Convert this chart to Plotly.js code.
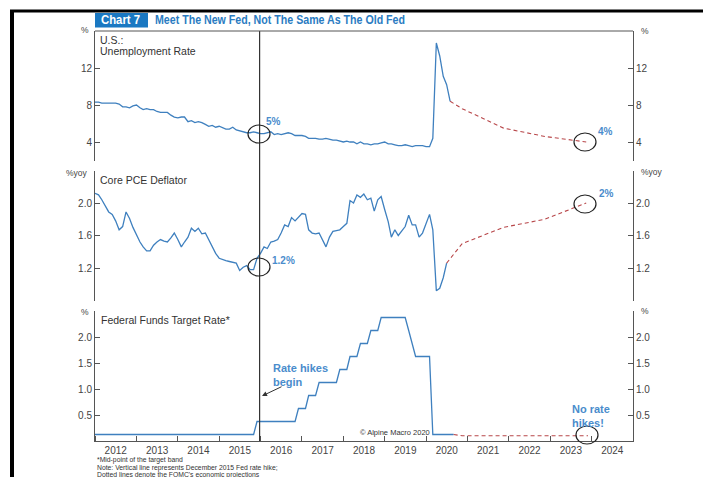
<!DOCTYPE html>
<html><head><meta charset="utf-8">
<script src="https://cdn.plot.ly/plotly-3.0.1.min.js"></script>
<style>html,body{margin:0;padding:0;background:#fff}#chart{width:703px;height:477px}</style>
</head><body><div id="chart"></div>
<script>
// ---------- DATA ----------
const seriesStart = '2012-01';
// U.S. unemployment rate, %, monthly from Jan 2012
const unemployment = [
 8.3,8.3,8.2,8.2,8.2,8.2,8.2,8.1,7.8,7.8,7.7,7.9,
 8.0,7.7,7.5,7.6,7.5,7.5,7.3,7.2,7.2,7.2,6.9,6.7,
 6.6,6.7,6.7,6.2,6.3,6.1,6.2,6.1,5.9,5.7,5.8,5.6,
 5.7,5.5,5.4,5.4,5.6,5.3,5.2,5.1,5.0,5.0,5.1,5.0,
 4.9,4.9,5.0,5.1,4.8,4.9,4.8,4.9,5.0,4.9,4.7,4.7,
 4.7,4.6,4.4,4.4,4.4,4.3,4.3,4.4,4.3,4.2,4.2,4.1,
 4.0,4.1,4.0,4.0,3.8,4.0,3.8,3.8,3.7,3.8,3.8,3.9,
 4.0,3.8,3.8,3.7,3.6,3.6,3.7,3.6,3.5,3.6,3.6,3.6,
 3.5,3.5,4.4,14.7,13.3,11.1,10.2,8.4
];
// Core PCE deflator, %yoy, monthly from Jan 2012
const corePCE = [
 2.12,2.10,2.04,1.96,1.89,1.86,1.78,1.67,1.71,1.89,1.81,1.70,
 1.60,1.52,1.46,1.41,1.41,1.48,1.52,1.55,1.53,1.52,1.57,1.63,
 1.55,1.46,1.52,1.58,1.69,1.65,1.69,1.62,1.63,1.55,1.46,1.38,
 1.32,1.30,1.29,1.28,1.27,1.26,1.17,1.21,1.23,1.18,1.18,1.32,
 1.38,1.46,1.44,1.52,1.53,1.55,1.63,1.73,1.71,1.82,1.78,1.83,
 1.87,1.86,1.67,1.63,1.62,1.63,1.55,1.46,1.58,1.65,1.66,1.67,
 1.71,1.75,2.03,2.00,2.10,2.07,2.11,2.04,2.06,1.90,2.04,2.08,
 1.92,1.77,1.58,1.67,1.60,1.66,1.71,1.85,1.73,1.73,1.58,1.63,
 1.75,1.86,1.67,0.92,0.95,1.08,1.26
];
// Federal funds target rate, mid-point of band, %, monthly from Jan 2012
const fedFunds = [
 0.125,0.125,0.125,0.125,0.125,0.125,0.125,0.125,0.125,0.125,0.125,0.125,
 0.125,0.125,0.125,0.125,0.125,0.125,0.125,0.125,0.125,0.125,0.125,0.125,
 0.125,0.125,0.125,0.125,0.125,0.125,0.125,0.125,0.125,0.125,0.125,0.125,
 0.125,0.125,0.125,0.125,0.125,0.125,0.125,0.125,0.125,0.125,0.125,0.375,
 0.375,0.375,0.375,0.375,0.375,0.375,0.375,0.375,0.375,0.375,0.375,0.625,
 0.625,0.625,0.875,0.875,0.875,1.125,1.125,1.125,1.125,1.125,1.125,1.375,
 1.375,1.375,1.625,1.625,1.625,1.875,1.875,1.875,2.125,2.125,2.125,2.375,
 2.375,2.375,2.375,2.375,2.375,2.375,2.375,2.125,1.875,1.625,1.625,1.625,
 1.625,1.625,0.125,0.125,0.125,0.125,0.125,0.125,0.125
];
// FOMC projections (dotted lines)
const unempProjDates = ['2020-08-01','2020-11-15','2021-11-15','2022-11-15','2023-11-15'];
const unempProj      = [8.4, 7.6, 5.5, 4.6, 4.0];
const pceProjDates   = ['2020-07-01','2020-11-15','2021-11-15','2022-11-15','2023-11-15'];
const pceProj        = [1.26, 1.5, 1.7, 1.8, 2.0];
const ffProjDates    = ['2020-09-01','2020-11-15','2021-11-15','2022-11-15','2023-12-01'];
const ffProj         = [0.125, 0.1, 0.1, 0.1, 0.1];
const hikeDate = '2015-12-24';

// ---------- BUILD ----------
function monthDates(start, n){
  let [y,m] = start.split('-').map(Number); const out=[];
  for(let i=0;i<n;i++){ out.push(y+'-'+String(m).padStart(2,'0')+'-01'); m++; if(m>12){m=1;y++;} }
  return out;
}
const BLUE='#3f80bf', RED='#b8474a', AX='#555', TXT='#444', ABLUE='#4a8ccc';
const F='Liberation Sans, Arial, sans-serif';
const solid = {color:BLUE,width:1.3};
const dashed = {color:RED,width:1.1,dash:'4px,3px'};
const traces = [
  {x:monthDates(seriesStart,unemployment.length), y:unemployment, yaxis:'y', mode:'lines', line:solid},
  {x:unempProjDates, y:unempProj, yaxis:'y', mode:'lines', line:dashed},
  {x:monthDates(seriesStart,corePCE.length), y:corePCE, yaxis:'y2', mode:'lines', line:solid},
  {x:pceProjDates, y:pceProj, yaxis:'y2', mode:'lines', line:dashed},
  {x:monthDates(seriesStart,fedFunds.length), y:fedFunds, yaxis:'y3', mode:'lines', line:solid},
  {x:ffProjDates, y:ffProj, yaxis:'y3', mode:'lines', line:dashed},
  {x:[], y:[], yaxis:'y4', mode:'lines'},
  {x:[], y:[], yaxis:'y5', mode:'lines'},
  {x:[], y:[], yaxis:'y6', mode:'lines'}
].map(t=>Object.assign({showlegend:false,hoverinfo:'skip'},t));

const L=95, R=633, T=31, B=441;
const px = x => (x-L)/(R-L);
const py = y => (B-y)/(B-T);

function yax(domain, range, vals, fmt, extra){
  return Object.assign({domain, range, tickvals:vals, tickformat:fmt, showline:true, linecolor:AX, linewidth:1,
    ticks:'inside', ticklen:5, tickcolor:AX, showgrid:false, zeroline:false, fixedrange:true,
    tickfont:{family:F,size:10,color:TXT}, anchor:'x'}, extra||{});
}
const D1=[py(160.5),1], D2=[py(300.5),py(170.5)], D3=[0,py(311)];
const layout = {
  width:703, height:477, margin:{l:L,r:703-R,t:T,b:477-B},
  paper_bgcolor:'#fff', plot_bgcolor:'rgba(0,0,0,0)', showlegend:false,
  xaxis:{type:'date', range:['2012-01-01','2025-01-01'], anchor:'y3', showline:true, linecolor:AX, linewidth:1,
    ticks:'inside', ticklen:5, tickcolor:AX, dtick:'M12', tick0:'2012-01-01', ticklabelmode:'period',
    tickformat:'%Y', showgrid:false, zeroline:false, fixedrange:true, tickfont:{family:F,size:10,color:TXT}},
  yaxis: yax(D1,[2,16],[4,8,12],'d'),
  yaxis2: yax(D2,[0.8,2.4],[1.2,1.6,2.0],'.1f'),
  yaxis3: yax(D3,[0,2.5],[0.5,1,1.5,2],'.1f'),
  yaxis4: yax(D1,[2,16],[4,8,12],'d',{overlaying:'y',side:'right'}),
  yaxis5: yax(D2,[0.8,2.4],[1.2,1.6,2.0],'.1f',{overlaying:'y2',side:'right'}),
  yaxis6: yax(D3,[0,2.5],[0.5,1,1.5,2],'.1f',{overlaying:'y3',side:'right'}),
  shapes:[
    {type:'line', xref:'x', yref:'paper', x0:hikeDate, x1:hikeDate, y0:0, y1:1, line:{color:'#333',width:1.2}},
    {type:'line', xref:'paper', yref:'paper', x0:0, x1:1, y0:1, y1:1, line:{color:AX,width:1}},
    // frame
    {type:'line', xref:'paper', yref:'paper', x0:px(10), x1:px(703), y0:py(11), y1:py(11), line:{color:'#000',width:3}},
    {type:'line', xref:'paper', yref:'paper', x0:px(12), x1:px(12), y0:py(10), y1:py(478), line:{color:'#000',width:4}},
    // title box
    {type:'rect', xref:'paper', yref:'paper', x0:px(95), x1:px(148), y0:py(27.5), y1:py(13), fillcolor:'#1a78c2', line:{width:0}},
    // circles
    ...[[259,134],[585,142],[585,204],[259,267],[587,435]].map(([cx,cy])=>({
      type:'circle', xref:'paper', yref:'paper', x0:px(cx-11), x1:px(cx+11), y0:py(cy+9), y1:py(cy-9),
      line:{color:'#222',width:1.2}}))
  ],
  annotations:[]
};
function ann(text,x,y,o){ layout.annotations.push(Object.assign({text, xref:'paper', yref:'paper', x:px(x), y:py(y),
  showarrow:false, xanchor:'left', yanchor:'middle', align:'left', font:{family:F,size:10.5,color:'#333'}},o||{})); }
// title
ann('<b>Chart 7</b>',99,20.5,{font:{family:F,size:12.5,color:'#fff'}});
ann('<b>Meet The New Fed, Not The Same As The Old Fed</b>',153,20.5,{font:{family:F,size:12.5,color:'#2b7cc2'}});
// panel titles
ann('U.S.:',98,40);
ann('Unemployment Rate',98,51);
ann('Core PCE Deflator',98,180);
ann('Federal Funds Target Rate*',99,320);
// unit labels
const uf={family:F,size:8.5,color:TXT};
ann('%',91,30,{xanchor:'right',font:uf});
ann('%yoy',90,173,{xanchor:'right',font:uf});
ann('%',91,312,{xanchor:'right',font:uf});
ann('%',639,31,{font:uf});
ann('%yoy',639,172,{font:uf});
ann('%',639,311,{font:uf});
// callouts
const cf={family:F,size:10,color:ABLUE};
ann('<b>5%</b>',264,122,{font:cf});
ann('<b>4%</b>',596,131,{font:cf});
ann('<b>2%</b>',597,193,{font:cf});
ann('<b>1.2%</b>',270,260,{font:cf});
ann('<b>Rate hikes<br>begin</b>',271,375,{font:{family:F,size:11,color:ABLUE}});
ann('<b>No rate<br>hikes!</b>',570,416,{font:{family:F,size:11,color:ABLUE}});
ann('© Alpine Macro 2020',358,432,{font:{family:F,size:7.5,color:'#333'}});
// arrow
layout.annotations.push({text:'', xref:'paper', yref:'paper', x:px(262), y:py(396), ax:21, ay:-10,
  axref:'pixel', ayref:'pixel', showarrow:true, arrowhead:2, arrowsize:1, arrowwidth:1, arrowcolor:'#333'});
// footnotes
const ff={family:F,size:6.8,color:'#333'};
ann('*Mid-point of the target band',96,460,{font:ff,borderpad:0});
ann("Note: Vertical line represents December 2015 Fed rate hike;",96,467.8,{font:ff,borderpad:0});
ann("Dotted lines denote the FOMC's economic projections",96,475.4,{font:ff,borderpad:0});

Plotly.newPlot('chart', traces, layout, {staticPlot:true, displayModeBar:false}).then(gd=>{
  // condense the title texts horizontally to match the narrow headline face
  gd.querySelectorAll('.annotation-text').forEach(t=>{
    const s=t.textContent;
    if(s==='Meet The New Fed, Not The Same As The Old Fed'){ t.setAttribute('textLength','250'); t.setAttribute('lengthAdjust','spacingAndGlyphs'); }
    if(s==='Chart 7'){ t.setAttribute('textLength','39'); t.setAttribute('lengthAdjust','spacingAndGlyphs'); }
  });
});
</script></body></html>
